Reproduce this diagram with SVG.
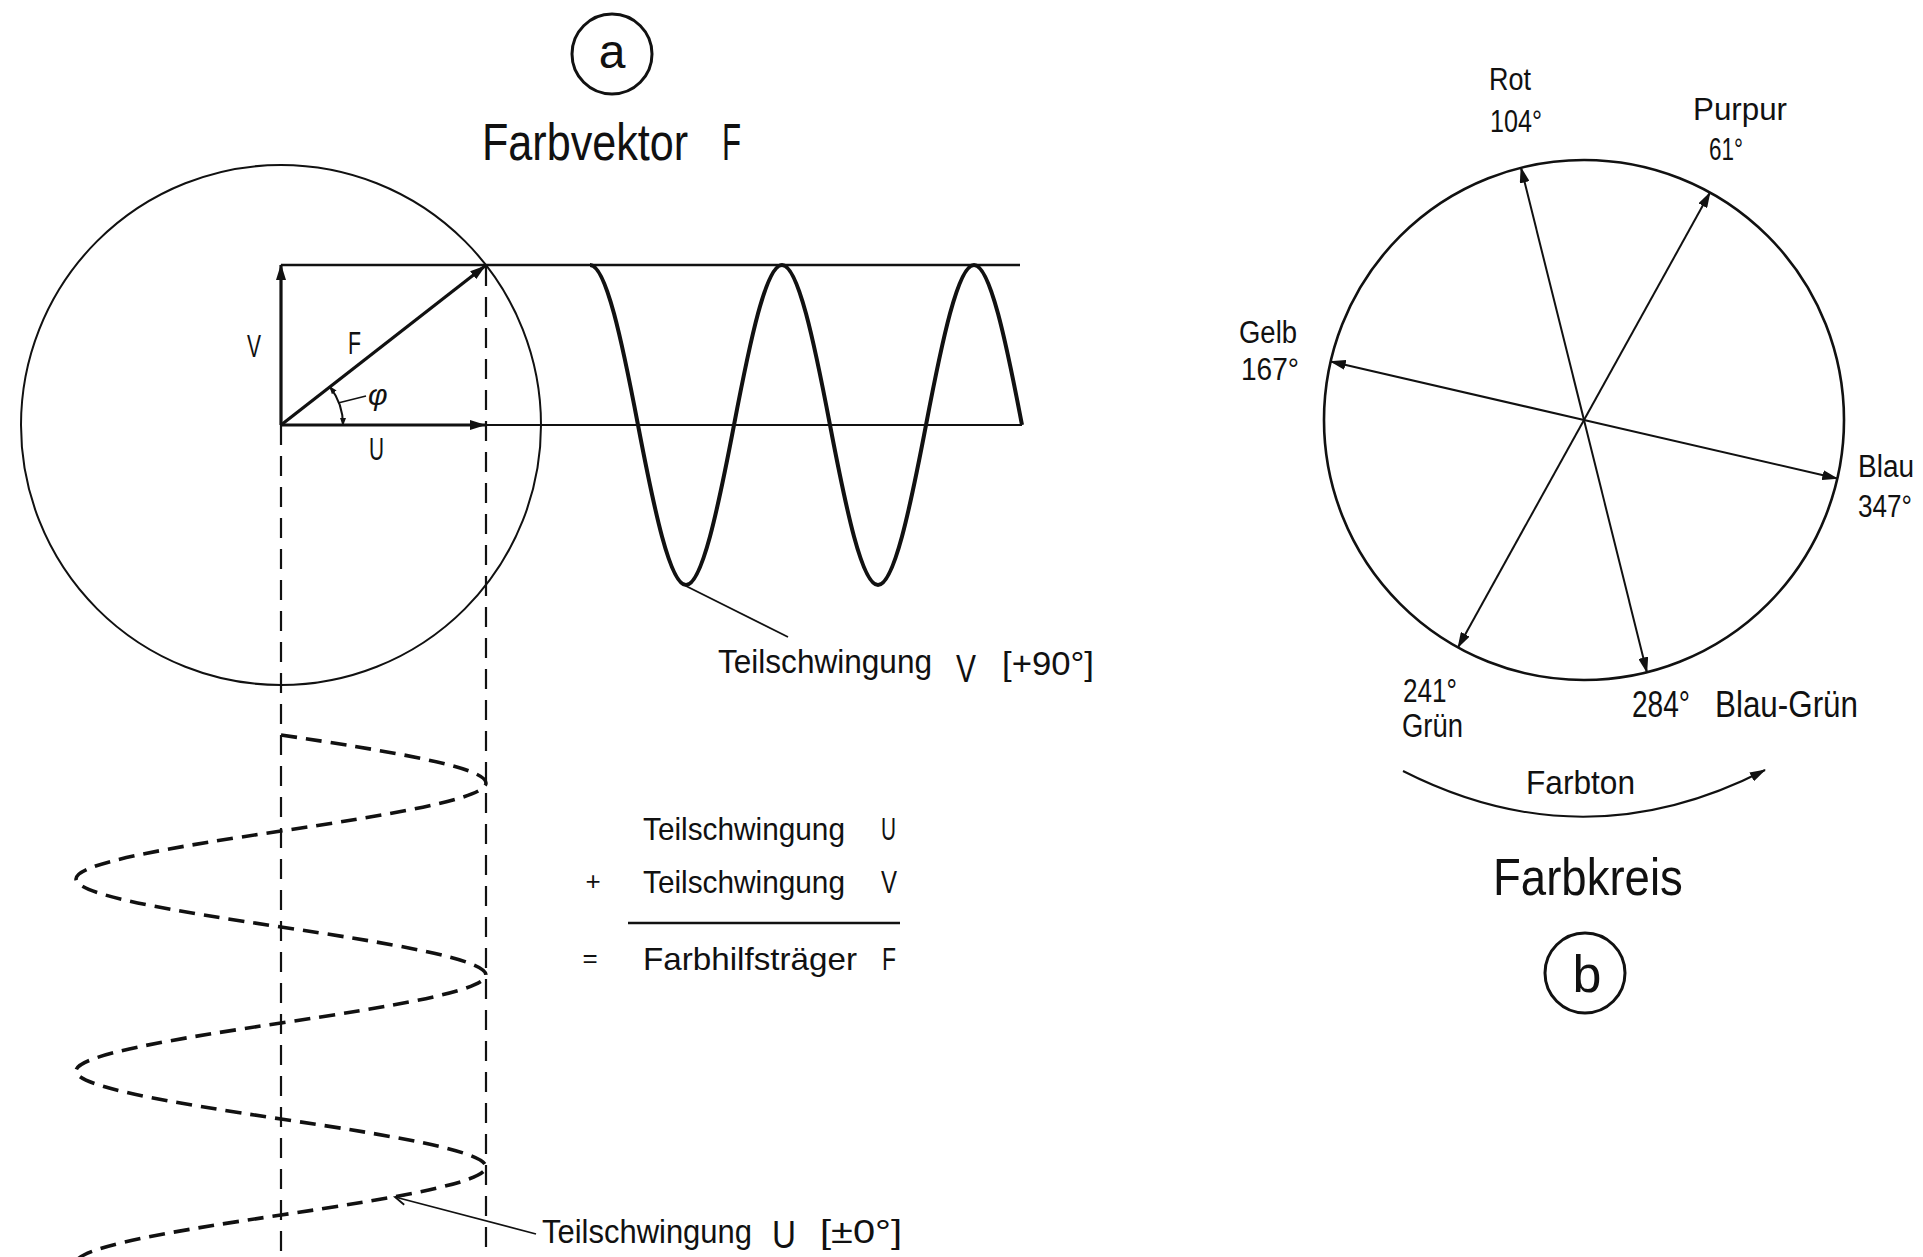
<svg xmlns="http://www.w3.org/2000/svg" width="1923" height="1257" viewBox="0 0 1923 1257">
<style>
  .t{font-family:"Liberation Sans",Arial,sans-serif;fill:#111}
  .ln{stroke:#111;fill:none}
  .thin{stroke-width:2}
  .med{stroke-width:2.6}
  .thick{stroke-width:3.2}
  .dash{stroke-dasharray:20 11;stroke-width:2.2}
  .wdash{stroke-dasharray:16 9;stroke-width:3.6}
</style>
<defs>
  <marker id="ah" viewBox="0 0 16 10" refX="15" refY="5" markerWidth="16" markerHeight="10" markerUnits="userSpaceOnUse" orient="auto">
    <path d="M0,0 L16,5 L0,10 z" fill="#111"/>
  </marker>
  <marker id="ahs" viewBox="0 0 8 6" refX="7" refY="3" markerWidth="8" markerHeight="6" markerUnits="userSpaceOnUse" orient="auto-start-reverse">
    <path d="M0,0 L8,3 L0,6 z" fill="#111"/>
  </marker>
</defs>
<rect width="1923" height="1257" fill="#fff"/>

<!-- Panel a -->
<g id="label-a">
  <circle cx="612" cy="54" r="40" class="ln" stroke-width="3"/>
  <text class="t" x="612" y="68" font-size="48" text-anchor="middle">a</text>
</g>
<g id="title-farbvektor">
  <text class="t" transform="translate(482,160) scale(0.83,1)" x="0" y="0" font-size="52">Farbvektor</text>
  <text class="t" transform="translate(722,160) scale(0.6,1)" x="0" y="0" font-size="52">F</text>
</g>
<g id="vector-circle">
  <circle cx="281" cy="425" r="260" class="ln thin"/>
</g>
<g id="wave-v">
  <path class="ln" stroke-width="4" d="M590,265 C606,265 622,341.2 638,425 C654,508.8 670,585 686,585 C702,585 718,508.8 734,425 C750,341.2 766,265 782,265 C798,265 814,341.2 830,425 C846,508.8 862,585 878,585 C894,585 910,508.8 926,425 C942,341.2 958,265 974,265 C990,265 1006,341.2 1022,425"/>
</g>
<g id="wave-u">
  <path class="ln wdash" d="M281,735 C388.3,751 486,767 486,783 C486,799 388.3,815 281,831 C173.7,847 76,863 76,879 C76,895 173.7,911 281,927 C388.3,943 486,959 486,975 C486,991 388.3,1007 281,1023 C173.7,1039 76,1055 76,1071 C76,1087 173.7,1103 281,1119 C388.3,1135 486,1151 486,1167 C486,1183 388.3,1199 281,1215 C173.7,1231 76,1247 76,1263"/>
</g>
<g id="labels-a">
  <text class="t" x="247" y="357" font-size="32" textLength="14" lengthAdjust="spacingAndGlyphs">V</text>
  <text class="t" x="348" y="354" font-size="32" textLength="13" lengthAdjust="spacingAndGlyphs">F</text>
  <text class="t" x="368" y="405" font-size="30" font-style="italic">φ</text>
  <text class="t" x="369" y="460" font-size="32" textLength="15" lengthAdjust="spacingAndGlyphs">U</text>
</g>
<g id="label-teil-v">
  <text class="t" x="718" y="673" font-size="33" textLength="214" lengthAdjust="spacingAndGlyphs">Teilschwingung</text>
  <text class="t" x="956" y="682" font-size="38" textLength="20" lengthAdjust="spacingAndGlyphs">V</text>
  <text class="t" x="1002" y="675" font-size="33" textLength="92" lengthAdjust="spacingAndGlyphs">[+90°]</text>
</g>
<g id="label-sum">
  <text class="t" x="643" y="840" font-size="32" textLength="202" lengthAdjust="spacingAndGlyphs">Teilschwingung</text>
  <text class="t" x="881" y="840" font-size="32" textLength="15" lengthAdjust="spacingAndGlyphs">U</text>
  <text class="t" x="593" y="890" font-size="26" text-anchor="middle">+</text>
  <text class="t" x="643" y="893" font-size="32" textLength="202" lengthAdjust="spacingAndGlyphs">Teilschwingung</text>
  <text class="t" x="881" y="893" font-size="32" textLength="16" lengthAdjust="spacingAndGlyphs">V</text>
  <line x1="628" y1="923" x2="900" y2="923" class="ln" stroke-width="2.4"/>
  <text class="t" x="590" y="967" font-size="26" text-anchor="middle">=</text>
  <text class="t" x="643" y="970" font-size="32" textLength="214" lengthAdjust="spacingAndGlyphs">Farbhilfsträger</text>
  <text class="t" x="882" y="970" font-size="32" textLength="14" lengthAdjust="spacingAndGlyphs">F</text>
</g>
<g id="label-teil-u">
  <text class="t" x="542" y="1243" font-size="33" textLength="210" lengthAdjust="spacingAndGlyphs">Teilschwingung</text>
  <text class="t" x="772" y="1248" font-size="38" textLength="24" lengthAdjust="spacingAndGlyphs">U</text>
  <text class="t" x="820" y="1243" font-size="33" textLength="82" lengthAdjust="spacingAndGlyphs">[±0°]</text>
</g>

<!-- Panel b -->
<g id="color-circle">
  <circle cx="1584" cy="420" r="260" class="ln" stroke-width="2.6"/>
</g>
<g id="labels-b">
  <text class="t" x="1489" y="90" font-size="31" textLength="42" lengthAdjust="spacingAndGlyphs">Rot</text>
  <text class="t" x="1490" y="132" font-size="31" textLength="52" lengthAdjust="spacingAndGlyphs">104°</text>
  <text class="t" x="1693" y="120" font-size="31" textLength="94" lengthAdjust="spacingAndGlyphs">Purpur</text>
  <text class="t" x="1709" y="160" font-size="31" textLength="34" lengthAdjust="spacingAndGlyphs">61°</text>
  <text class="t" x="1239" y="343" font-size="31" textLength="58" lengthAdjust="spacingAndGlyphs">Gelb</text>
  <text class="t" x="1241" y="380" font-size="31" textLength="58" lengthAdjust="spacingAndGlyphs">167°</text>
  <text class="t" x="1858" y="477" font-size="31" textLength="56" lengthAdjust="spacingAndGlyphs">Blau</text>
  <text class="t" x="1858" y="517" font-size="31" textLength="54" lengthAdjust="spacingAndGlyphs">347°</text>
  <text class="t" x="1403" y="702" font-size="34" textLength="54" lengthAdjust="spacingAndGlyphs">241°</text>
  <text class="t" x="1402" y="737" font-size="33" textLength="61" lengthAdjust="spacingAndGlyphs">Grün</text>
  <text class="t" x="1632" y="717" font-size="36" textLength="58" lengthAdjust="spacingAndGlyphs">284°</text>
  <text class="t" x="1715" y="717" font-size="36" textLength="143" lengthAdjust="spacingAndGlyphs">Blau-Grün</text>
  <text class="t" x="1526" y="794" font-size="34" textLength="109" lengthAdjust="spacingAndGlyphs">Farbton</text>
</g>
<g id="title-farbkreis">
  <text class="t" transform="translate(1493,895) scale(0.876,1)" x="0" y="0" font-size="52">Farbkreis</text>
</g>
<g id="label-b">
  <circle cx="1585" cy="973" r="40" class="ln" stroke-width="3"/>
  <text class="t" x="1587" y="992" font-size="52" text-anchor="middle">b</text>
</g>

<!-- Connectors -->
<g id="connectors">
  <line x1="281" y1="265" x2="1020" y2="265" class="ln med"/>
  <line x1="484" y1="425" x2="1022" y2="425" class="ln thin"/>
  <line x1="281" y1="425" x2="281" y2="1257" class="ln dash"/>
  <line x1="486" y1="266" x2="486" y2="1257" class="ln dash"/>
  <line x1="281" y1="425" x2="281" y2="265" class="ln thick" marker-end="url(#ah)"/>
  <line x1="281" y1="425" x2="485" y2="425" class="ln thick" marker-end="url(#ah)"/>
  <line x1="281" y1="425" x2="485" y2="266" class="ln thick" marker-end="url(#ah)"/>
  <path d="M329.9,386.8 A62,62 0 0,1 343,425" class="ln thin" marker-start="url(#ahs)" marker-end="url(#ahs)"/>
  <line x1="338" y1="403" x2="366" y2="396" class="ln" stroke-width="1.8"/>
  <line x1="686" y1="586" x2="788" y2="637" class="ln" stroke-width="1.8"/>
  <line x1="395" y1="1197" x2="536" y2="1234" class="ln" stroke-width="1.8"/>
  <polyline points="404.2,1204.7 395,1197 406.8,1194.9" class="ln" stroke-width="1.8"/>
  <line x1="1584" y1="420" x2="1521" y2="167.7" class="ln thin" marker-end="url(#ah)"/>
  <line x1="1584" y1="420" x2="1710" y2="192.6" class="ln thin" marker-end="url(#ah)"/>
  <line x1="1584" y1="420" x2="1330.7" y2="361.5" class="ln thin" marker-end="url(#ah)"/>
  <line x1="1584" y1="420" x2="1837.3" y2="478.5" class="ln thin" marker-end="url(#ah)"/>
  <line x1="1584" y1="420" x2="1458" y2="647.4" class="ln thin" marker-end="url(#ah)"/>
  <line x1="1584" y1="420" x2="1646.9" y2="672.3" class="ln thin" marker-end="url(#ah)"/>
  <path d="M1403,771 Q1584,863 1765,770" class="ln thin" marker-end="url(#ah)"/>
</g>
</svg>
